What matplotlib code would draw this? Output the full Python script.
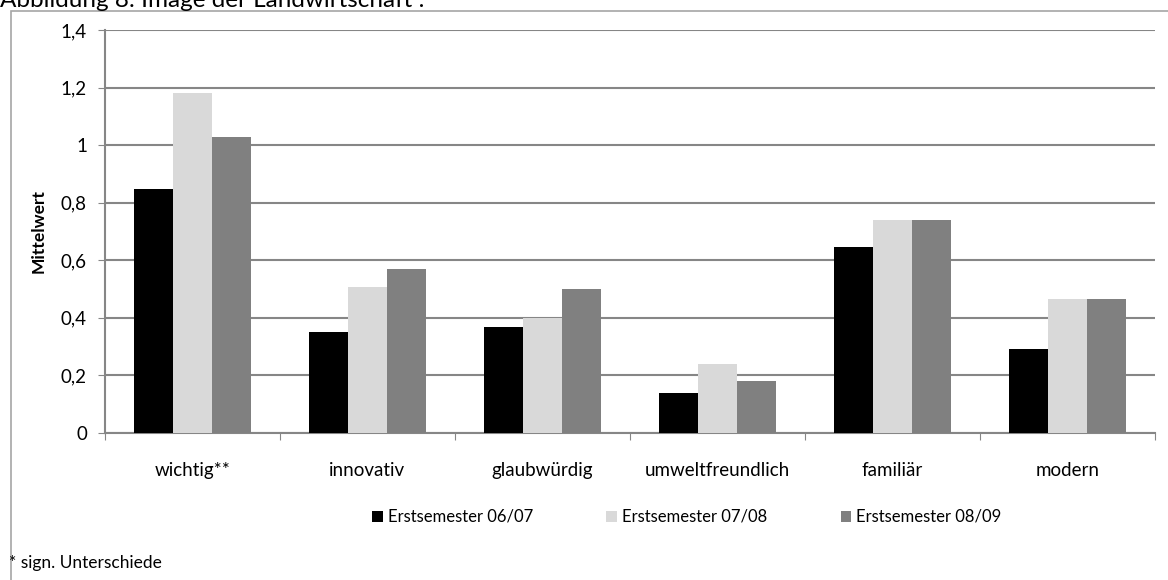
import numpy as np
import matplotlib
matplotlib.use('Agg')
from matplotlib import pyplot as plt
from matplotlib.patches import Rectangle

plt.rcParams['font.family'] = ['Lato', 'DejaVu Sans']

# Daten
kategorien = ['wichtig**', 'innovativ', 'glaubwürdig', 'umweltfreundlich', 'familiär', 'modern']
serien = ['Erstsemester 06/07', 'Erstsemester 07/08', 'Erstsemester 08/09']
werte_0607 = [0.846, 0.348, 0.367, 0.136, 0.646, 0.289]
werte_0708 = [1.18, 0.506, 0.40, 0.238, 0.739, 0.465]
werte_0809 = [1.027, 0.568, 0.498, 0.178, 0.739, 0.465]
y_ticks = [0, 0.2, 0.4, 0.6, 0.8, 1.0, 1.2, 1.4]
y_labels = ['0', '0,2', '0,4', '0,6', '0,8', '1', '1,2', '1,4']

farben = ['#000000', '#d9d9d9', '#808080']

fig = plt.figure(figsize=(11.68, 5.8), dpi=100)
ax = fig.add_axes([105 / 1168, 147.5 / 580, 1050 / 1168, 402.5 / 580])

# Rahmen um das Diagramm
fig.patches.append(Rectangle((11 / 1168, -0.1), 1.2, 1.1 - 11 / 580, transform=fig.transFigure,
                             fill=False, edgecolor='#a6a6a6', linewidth=1.2))

x = np.arange(len(kategorien)) + 0.5
breite = 0.222
for i, (werte, name) in enumerate(zip([werte_0607, werte_0708, werte_0809], serien)):
    ax.bar(x + (i - 1) * breite, werte, breite, color=farben[i], label=name, zorder=3)

ax.set_xlim(0, len(kategorien))
ax.set_ylim(0, 1.4)
ax.set_yticks(y_ticks)
ax.set_yticklabels(y_labels, fontsize=13.5)
ax.set_xticks(np.arange(len(kategorien) + 1))
ax.set_xticklabels([])
ax.set_xticks(x, minor=True)
ax.set_xticklabels(kategorien, minor=True, fontsize=13.5)
ax.tick_params(axis='x', which='major', length=5, color='#868686', direction='out')
ax.tick_params(axis='x', which='minor', length=0, pad=21)
ax.tick_params(axis='y', length=5, color='#868686', direction='out', pad=8)

ax.grid(axis='y', color='#868686', linewidth=1.5, zorder=0)
for s in ['top', 'right']:
    ax.spines[s].set_visible(False)
for s in ['left', 'bottom']:
    ax.spines[s].set_color('#868686')
    ax.spines[s].set_linewidth(1.5)

ax.set_ylabel('Mittelwert', fontsize=12.5, fontweight='bold', labelpad=10)

fig.legend(loc='center', bbox_to_anchor=(0.588, 1 - 517 / 580), ncol=3, frameon=False,
           fontsize=12, handlelength=0.65, handleheight=0.65, handletextpad=0.3,
           columnspacing=4.4)

fig.text(0, 1 - 7 / 580, 'Abbildung 8: Image der Landwirtschaft :', fontsize=17.5,
         va='baseline', ha='left')
fig.text(9 / 1168, 1 - 563 / 580, '* sign. Unterschiede', fontsize=12.5, va='center', ha='left')

plt.savefig('out.png', dpi=100)
